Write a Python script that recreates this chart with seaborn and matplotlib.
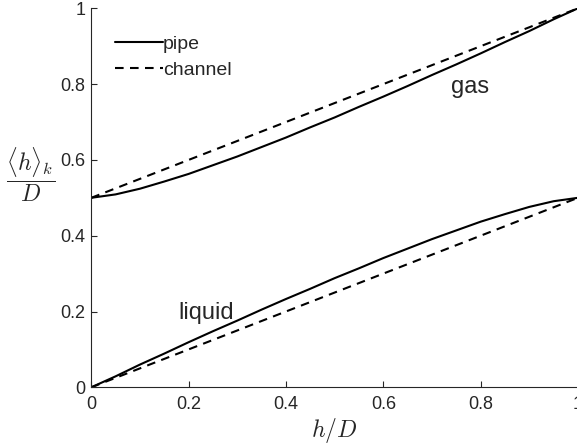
import matplotlib
matplotlib.use("Agg")
import matplotlib.pyplot as plt
import seaborn as sns
import pandas as pd
from matplotlib.lines import Line2D

# ---- data ----
h_pipe = [0.0, 0.05, 0.1, 0.15, 0.2, 0.25, 0.3, 0.35, 0.4, 0.45, 0.5,
          0.55, 0.6, 0.65, 0.7, 0.75, 0.8, 0.85, 0.9, 0.95, 1.0]
liquid_pipe = [0.0, 0.029, 0.060, 0.089, 0.119, 0.148, 0.176, 0.205, 0.233, 0.260, 0.288,
               0.314, 0.341, 0.366, 0.391, 0.414, 0.437, 0.457, 0.476, 0.491, 0.500]
gas_pipe = [0.500, 0.509, 0.524, 0.543, 0.563, 0.586, 0.609, 0.634, 0.659, 0.686, 0.712,
            0.740, 0.767, 0.795, 0.824, 0.852, 0.881, 0.911, 0.940, 0.971, 1.000]
h_channel = [0.0, 1.0]
liquid_channel = [0.0, 0.5]
gas_channel = [0.5, 1.0]
tick_values = [0, 0.2, 0.4, 0.6, 0.8, 1]
tick_labels = ["0", "0.2", "0.4", "0.6", "0.8", "1"]
legend_labels = ["pipe", "channel"]

sns.set_theme(style="ticks")
plt.rcParams["font.family"] = ["Liberation Sans", "DejaVu Sans"]
plt.rcParams["mathtext.fontset"] = "cm"
plt.rcParams["lines.scale_dashes"] = False

W, H = 577, 447
fig = plt.figure(figsize=(W / 100, H / 100), dpi=100)
x0, x1 = 91.3, 578.0
y0, y1 = 387.3, 8.3
ax = fig.add_axes([x0 / W, 1 - y0 / H, (x1 - x0) / W, (y0 - y1) / H])

gray = "#262626"
lw = 1.5
dash = (6.2, 4.6)

df_pipe = pd.DataFrame({"h": h_pipe, "liq": liquid_pipe, "gas": gas_pipe})
df_chan = pd.DataFrame({"h": h_channel, "liq": liquid_channel, "gas": gas_channel})

sns.lineplot(data=df_pipe, x="h", y="liq", color="black", lw=lw, ax=ax)
sns.lineplot(data=df_pipe, x="h", y="gas", color="black", lw=lw, ax=ax)
sns.lineplot(data=df_chan, x="h", y="liq", color="black", lw=lw, ax=ax,
             linestyle=(0, dash))
sns.lineplot(data=df_chan, x="h", y="gas", color="black", lw=lw, ax=ax,
             linestyle=(0, dash))

ax.set_xlim(0, 1)
ax.set_ylim(0, 1)
ax.set_xticks(tick_values)
ax.set_xticklabels(tick_labels)
ax.set_yticks(tick_values)
ax.set_yticklabels(tick_labels)
ax.tick_params(direction="in", length=4, width=0.8, colors=gray, labelsize=13)
ax.tick_params(axis="x", pad=6)
ax.tick_params(axis="y", pad=4)
for s in ["top", "right"]:
    ax.spines[s].set_visible(False)
for s in ["left", "bottom"]:
    ax.spines[s].set_color(gray)
    ax.spines[s].set_linewidth(0.8)

ax.set_xlabel(r"$h/D$", fontsize=17, color=gray, va="center")
ax.xaxis.set_label_coords(0.499, -0.115)
ax.set_ylabel(r"$\dfrac{\langle h\rangle_k}{D}$", fontsize=17, rotation=0,
              color=gray, va="center", ha="center")
ax.yaxis.set_label_coords(-0.124, 0.56)

ax.text(0.778, 0.792, "gas", fontsize=17, ha="center", va="center",
        transform=ax.transAxes)
ax.text(0.237, 0.195, "liquid", fontsize=17, ha="center", va="center",
        transform=ax.transAxes)

handles = [Line2D([], [], color="black", lw=lw),
           Line2D([], [], color="black", lw=lw, linestyle=(0, dash))]
ax.legend(handles, legend_labels, loc="upper left",
          bbox_to_anchor=(0.0487, 0.929), frameon=False, fontsize=14,
          borderpad=0, borderaxespad=0, handletextpad=0.0,
          handlelength=2.47, labelspacing=0.44)

fig.savefig("out.png", dpi=100)
